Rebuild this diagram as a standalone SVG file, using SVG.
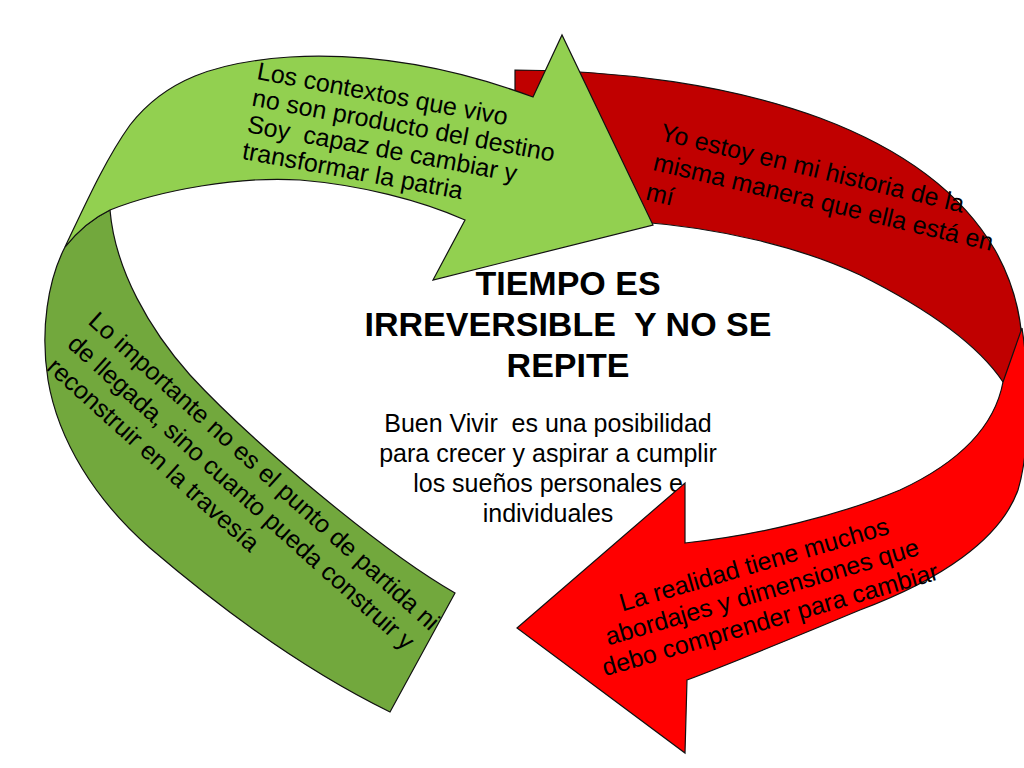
<svg xmlns="http://www.w3.org/2000/svg" width="1024" height="768" viewBox="0 0 1024 768">
<style>
.band{stroke:#111;stroke-width:1.2;stroke-linejoin:miter}
.lg{fill:#92D050}
.dg{fill:#72A83D}
.dr{fill:#C00000}
.lr{fill:#FF0000}
.t{font-family:"Liberation Sans",Arial,sans-serif;font-size:25px;fill:#000}
.title{font-family:"Liberation Sans",Arial,sans-serif;font-size:34px;font-weight:bold;fill:#000;text-anchor:middle}
.body{font-family:"Liberation Sans",Arial,sans-serif;font-size:25px;fill:#000;text-anchor:middle}
</style>
<rect width="1024" height="768" fill="#fff"/>
<g id="center-text">
<text class="title" xml:space="preserve"><tspan x="568" y="295">TIEMPO ES</tspan><tspan x="568" y="336">IRREVERSIBLE  Y NO SE</tspan><tspan x="568" y="377">REPITE</tspan></text>
<text class="body" xml:space="preserve"><tspan x="548" y="432">Buen Vivir  es una posibilidad</tspan><tspan x="548" y="462">para crecer y aspirar a cumplir</tspan><tspan x="548" y="492">los sueños personales e</tspan><tspan x="548" y="522">individuales</tspan></text>
</g>
<g id="connectors">
<path id="dark-red-band" class="band dr" d="M515,70 C620,70 730,85 820,118 C900,148 960,190 995,250 C1012,280 1020,310 1022,340 L1024,400 L1003,382 C975,340 920,305 860,275 C800,247 720,228 640,222 L560,215 L515,215 Z"/>
<path id="light-red-arrow" class="band lr" d="M1003,382 L1022,328 C1030,380 1030,450 1018,490 C1000,540 940,580 860,610 C800,635 740,660 687,680 L685,753 L517,628 L685,483 L685,543 C760,535 840,515 900,490 C960,462 995,425 1003,382 Z"/>
<path id="dark-green-band" class="band dg" d="M65,247 C48,280 40,330 48,380 C58,440 95,500 150,548 C220,608 300,668 390,712 L455,593 C380,550 250,440 190,375 C150,330 115,270 110,210 Q85,222 65,247 Z"/>
<path id="light-green-arrow" class="band lg" d="M65,247 C85,205 105,160 130,125 C165,80 215,62 290,57 C380,52 460,70 533,97 L562,35 L653,225 L433,280 L465,220 C420,200 360,185 300,180 C240,176 160,190 110,210 Q85,222 65,247 Z"/>
</g>
<g id="node-top-green">
<text class="t" transform="translate(256,79) rotate(10.5)" xml:space="preserve"><tspan x="0" y="0">Los contextos que vivo</tspan><tspan x="0" y="27">no son producto del destino</tspan><tspan x="0" y="54">Soy  capaz de cambiar y</tspan><tspan x="0" y="81">transformar la patria</tspan></text>
</g>
<g id="node-top-red">
<text class="t" transform="translate(659,140) rotate(13.5)"><tspan x="0" y="0">Yo estoy en mi historia de la</tspan><tspan x="0" y="30.5">misma manera que ella está en</tspan><tspan x="0" y="61">mí</tspan></text>
</g>
<g id="node-bottom-red">
<text class="t" text-anchor="middle" transform="translate(756.5,572.5) rotate(-16.2)"><tspan x="0" y="0">La realidad tiene muchos</tspan><tspan x="0" y="28.7">abordajes y dimensiones que</tspan><tspan x="0" y="57.4">debo comprender para cambiar</tspan></text>
</g>
<g id="node-left-green">
<text class="t" transform="translate(87,323) rotate(42)"><tspan x="0" y="0">Lo importante no es el punto de partida ni</tspan><tspan x="0" y="31">de llegada, sino cuanto pueda construir y</tspan><tspan x="0" y="62">reconstruir en la travesía</tspan></text>
</g>
</svg>
